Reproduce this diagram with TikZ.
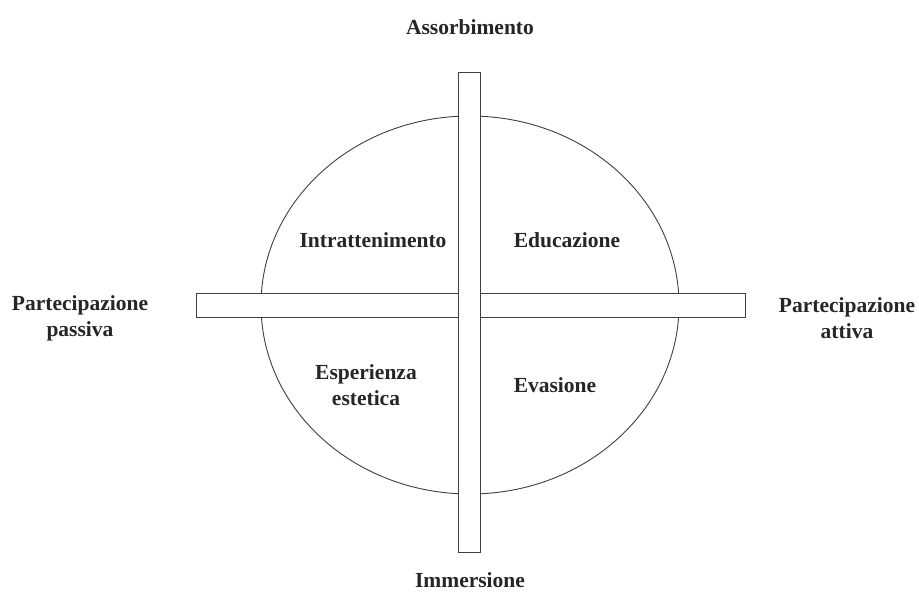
\documentclass[tikz,border=0pt]{standalone}
\usepackage{fontspec}
\setmainfont{Liberation Serif}
\begin{document}
\begin{tikzpicture}[x=1pt,y=-1pt,
  lbl/.style={font=\fontsize{21.5}{26}\selectfont\bfseries, text=black!85, align=center, inner sep=0pt},
  bar/.style={draw=black!75, line width=1pt, fill=white},
  ln/.style={draw=black!75, line width=0.9pt}]
\useasboundingbox (0,0) rectangle (919,613);
\fill[white] (0,0) rectangle (919,613);
\draw[ln] (470,305) ellipse [x radius=209, y radius=189];
\node[bar, minimum width=549, minimum height=24, inner sep=0pt] (hbar) at (470.5,305.5) {};
\node[bar, minimum width=22, minimum height=480, inner sep=0pt] (vbar) at (469,312) {};
\node[lbl] (top) at (470,27) {Assorbimento};
\node[lbl] (bot) at (470,580) {Immersione};
\node[lbl] (left) at (80,318) {Partecipazione\\passiva};
\node[lbl] (right) at (847,318) {Partecipazione\\attiva};
\node[lbl] (q1) at (373,240) {Intrattenimento};
\node[lbl] (q2) at (567,240) {Educazione};
\node[lbl] (q3) at (366,385) {Esperienza\\estetica};
\node[lbl] (q4) at (555,385) {Evasione};
\end{tikzpicture}
\end{document}
